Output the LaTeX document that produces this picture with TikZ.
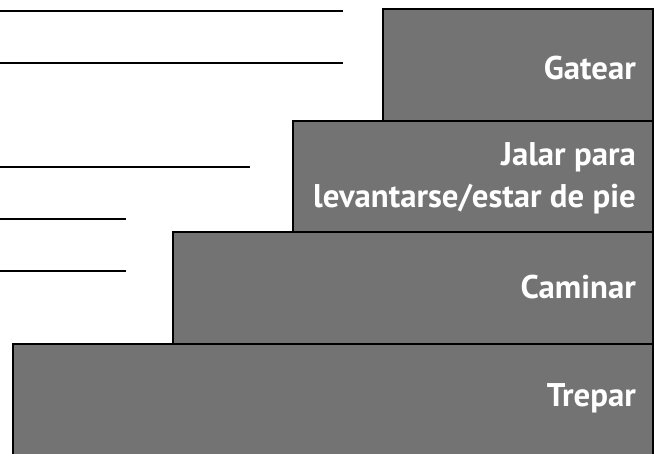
\documentclass[tikz,border=0pt]{standalone}
\usepackage{fontspec}
\setmainfont{PT Sans}
\definecolor{stepgray}{HTML}{737373}
\tikzset{
  stepbox/.style={fill=stepgray, draw=black, line width=2.2pt},
  blank/.style={draw=black, line width=1.4pt},
  steplabel/.style={anchor=east, align=right, text=white, font=\bfseries\fontsize{32.8}{42}\selectfont, inner sep=0pt}
}
\begin{document}
\begin{tikzpicture}[x=1pt,y=-1pt]
\useasboundingbox (0,0) rectangle (655,453);
% answer lines
\draw[blank] (0,11) -- (343,11);
\draw[blank] (0,63) -- (343,63);
\draw[blank] (0,167) -- (250,167);
\draw[blank] (0,219) -- (126,219);
\draw[blank] (0,271) -- (126,271);
% steps
\draw[stepbox] (383,9) rectangle (653,122);
\draw[stepbox] (293,121) rectangle (653,233);
\draw[stepbox] (173,232) rectangle (653,344);
\draw[stepbox] (13,344) rectangle (653,470);
% labels
\node[steplabel] (gatear) at (636,68) {Gatear};
\node[steplabel] (jalar) at (636,178) {Jalar para\\levantarse/estar de pie};
\node[steplabel] (caminar) at (636,287) {Caminar};
\node[steplabel] (trepar) at (636,398) {Trepar};
\end{tikzpicture}
\end{document}
